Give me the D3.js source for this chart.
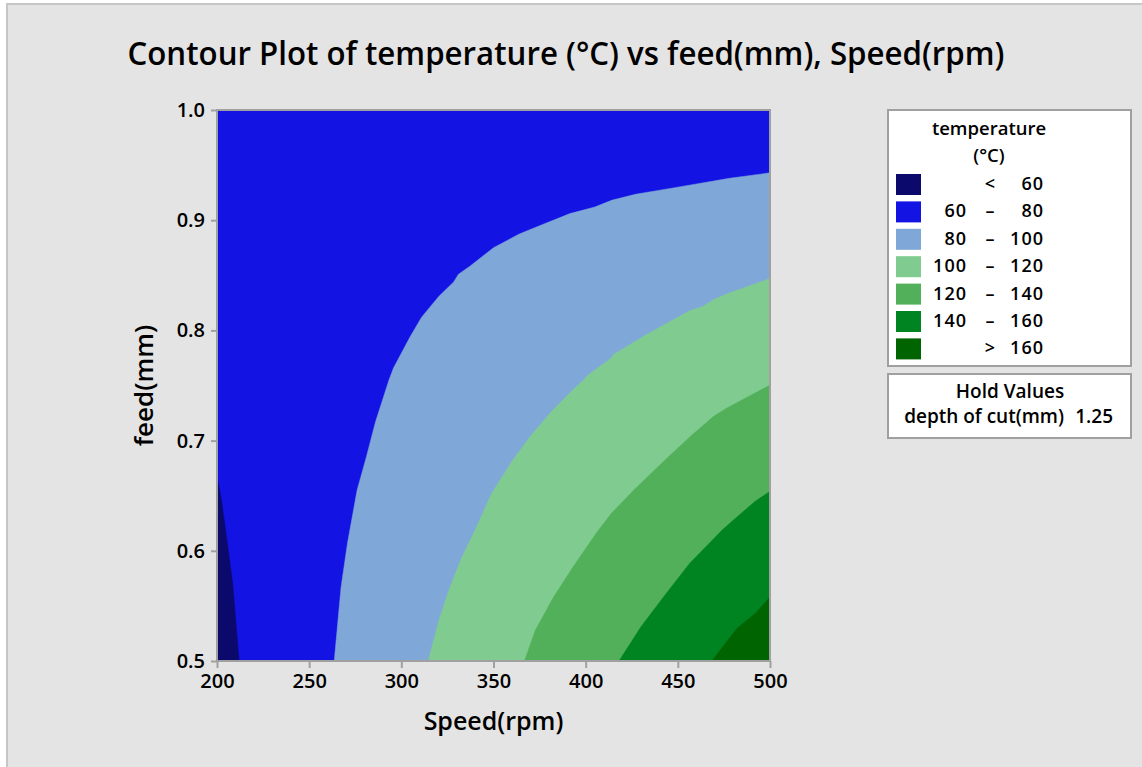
<!DOCTYPE html>
<html>
<head>
<meta charset="utf-8">
<script src="https://cdn.jsdelivr.net/npm/d3@7"></script>
<style>
  html, body { margin: 0; padding: 0; background: #ffffff; }
  svg { display: block; }
  text { font-family: "Open Sans", "Noto Sans", sans-serif; fill: #000; }
</style>
</head>
<body>
<svg id="chart" width="1142" height="767"></svg>
<script>
// Contour bands: level edges, names and fill colours
const levels = [60, 80, 100, 120, 140, 160];
const bandColors = ["#0b0a6c", "#1313e3", "#7fa8d8", "#80cc90", "#52b05b", "#008422", "#006400"];
const legendLo  = ["", "60", "80", "100", "120", "140", ""];
const legendSym = ["<", "\u2013", "\u2013", "\u2013", "\u2013", "\u2013", ">"];
const legendHi  = ["60", "80", "100", "120", "140", "160", "160"];

// Axis ticks
const speedTicks = [200, 250, 300, 350, 400, 450, 500];
const feedTicks = [0.5, 0.6, 0.7, 0.8, 0.9, 1.0];

// Contour lines as [speed (rpm), feed (mm)] points
const contour60 = [[200, 0.668], [202.5, 0.645], [205.6, 0.607], [208.5, 0.57], [212, 0.5]];
const contour80 = [[500, 0.943], [478, 0.938], [450, 0.930], [427, 0.9235], [414, 0.918], [405, 0.912],
  [391.5, 0.906], [375, 0.895], [364, 0.8875], [350, 0.875], [337, 0.858], [331, 0.851], [328.4, 0.844],
  [320.4, 0.831], [311, 0.812], [304.7, 0.794], [295.8, 0.766], [293.3, 0.755], [286, 0.717], [281, 0.685],
  [276, 0.655], [270.8, 0.607], [267.3, 0.567], [263.6, 0.5]];
const contour100 = [[500, 0.847], [478, 0.834], [470, 0.8285], [463.4, 0.8215], [456.6, 0.818], [432.8, 0.796],
  [415, 0.778], [414, 0.775], [401.3, 0.7595], [398.9, 0.755], [393, 0.746], [380.7, 0.725], [369.8, 0.7035],
  [360, 0.681], [349, 0.652], [341.2, 0.623], [332.3, 0.592], [326.4, 0.567], [320.4, 0.537], [314.6, 0.5]];
const contour120 = [[500, 0.7505], [476, 0.729], [469.4, 0.722], [456.6, 0.7035], [442.8, 0.682], [426, 0.655],
  [414, 0.634], [406.2, 0.617], [393.4, 0.586], [382.6, 0.558], [372.7, 0.528], [366.8, 0.5]];
const contour140 = [[500, 0.654], [492, 0.645], [480.2, 0.628], [474.2, 0.619], [456.6, 0.589], [443.8, 0.5615],
  [430, 0.531], [418.1, 0.5]];
const contour160 = [[500, 0.558], [492, 0.543], [482.3, 0.530], [468.4, 0.5]];

const holdName = "depth of cut(mm)";
const holdValue = 1.25;

const svg = d3.select("#chart");
const frameColor = "#a0a0a0";

// Grey graph panel
svg.append("rect").attr("x", 7).attr("y", 4).attr("width", 1142).attr("height", 780)
  .attr("fill", "#e4e4e4").attr("stroke", "#c6c6c6").attr("stroke-width", 2);

// Scales
const x = d3.scaleLinear().domain([200, 500]).range([217, 770]);
const y = d3.scaleLinear().domain([0.5, 1.0]).range([661, 110]);

svg.append("defs").append("clipPath").attr("id", "plotClip")
  .append("rect").attr("x", x(200)).attr("y", y(1.0))
  .attr("width", x(500) - x(200)).attr("height", y(0.5) - y(1.0));

const plot = svg.append("g").attr("clip-path", "url(#plotClip)");
const line = d3.line().x(d => x(d[0])).y(d => y(d[1]));

// 60–80 band fills the whole region first
plot.append("rect").attr("x", x(200)).attr("y", y(1.0))
  .attr("width", x(500) - x(200)).attr("height", y(0.5) - y(1.0))
  .attr("fill", bandColors[1]);

// Below 60: bounded by the 60 line and the lower-left corner
plot.append("path").attr("d", line(contour60.concat([[200, 0.5]])) + "Z")
  .attr("fill", bandColors[0]).attr("stroke", bandColors[0]).attr("stroke-width", 0.5);

// Higher bands grow toward the lower-right corner
[contour80, contour100, contour120, contour140, contour160].forEach((c, i) => {
  plot.append("path").attr("d", line(c.concat([[500, 0.5]])) + "Z")
    .attr("fill", bandColors[i + 2]).attr("stroke", bandColors[i + 2]).attr("stroke-width", 0.5);
});

// Frame
svg.append("rect").attr("x", x(200)).attr("y", y(1.0))
  .attr("width", x(500) - x(200)).attr("height", y(0.5) - y(1.0))
  .attr("fill", "none").attr("stroke", frameColor).attr("stroke-width", 2);

// Axes
const xAxis = svg.append("g").attr("transform", `translate(0,${y(0.5)})`)
  .call(d3.axisBottom(x).tickValues(speedTicks).tickSize(7).tickPadding(6).tickFormat(d3.format("d")));
const yAxis = svg.append("g").attr("transform", `translate(${x(200)},0)`)
  .call(d3.axisLeft(y).tickValues(feedTicks).tickSize(6).tickPadding(6).tickFormat(d3.format(".1f")));
[xAxis, yAxis].forEach(a => {
  a.select(".domain").remove();
  a.selectAll(".tick line").attr("stroke", frameColor).attr("stroke-width", 2);
  a.selectAll(".tick text").attr("fill", "#000").style("font-size", "20px").style("font-weight", 600)
    .style("font-family", '"Open Sans", sans-serif');
});

// Titles
svg.append("text").attr("x", 566).attr("y", 65).attr("text-anchor", "middle")
  .attr("textLength", 877).attr("lengthAdjust", "spacingAndGlyphs")
  .style("font-size", "33px").style("font-weight", 600)
  .text("Contour Plot of temperature (°C) vs feed(mm), Speed(rpm)");
svg.append("text").attr("x", (x(200) + x(500)) / 2).attr("y", 730).attr("text-anchor", "middle")
  .style("font-size", "25px").style("font-weight", 600).text("Speed(rpm)");
svg.append("text").attr("transform", `translate(153,${(y(0.5) + y(1.0)) / 2}) rotate(-90)`)
  .attr("text-anchor", "middle").style("font-size", "26px").style("font-weight", 600).text("feed(mm)");

// Legend
const lg = svg.append("g");
lg.append("rect").attr("x", 888).attr("y", 110).attr("width", 243).attr("height", 256)
  .attr("fill", "#fff").attr("stroke", frameColor).attr("stroke-width", 2);
lg.append("text").attr("x", 989).attr("y", 135).attr("text-anchor", "middle")
  .style("font-size", "18.5px").style("font-weight", 600).text("temperature");
lg.append("text").attr("x", 989).attr("y", 162).attr("text-anchor", "middle")
  .style("font-size", "18.5px").style("font-weight", 600).text("(°C)");
const rows = lg.selectAll("g.row").data(bandColors).join("g").attr("class", "row")
  .attr("transform", (d, i) => `translate(0,${174 + i * 27.4})`);
rows.append("rect").attr("x", 896).attr("y", 0).attr("width", 25).attr("height", 21).attr("fill", d => d);
rows.append("text").attr("x", 967).attr("y", 16).attr("text-anchor", "end")
  .style("font-size", "18px").style("font-weight", 600).style("letter-spacing", "1px")
  .text((d, i) => legendLo[i]);
rows.append("text").attr("x", 990).attr("y", 16).attr("text-anchor", "middle")
  .style("font-size", "18px").style("font-weight", 600).text((d, i) => legendSym[i]);
rows.append("text").attr("x", 1044).attr("y", 16).attr("text-anchor", "end")
  .style("font-size", "18px").style("font-weight", 600).style("letter-spacing", "1px")
  .text((d, i) => legendHi[i]);

// Hold values box
const hb = svg.append("g");
hb.append("rect").attr("x", 888).attr("y", 374).attr("width", 243).attr("height", 64)
  .attr("fill", "#fff").attr("stroke", frameColor).attr("stroke-width", 2);
hb.append("text").attr("x", 1010).attr("y", 398).attr("text-anchor", "middle")
  .style("font-size", "19px").style("font-weight", 600).text("Hold Values");
hb.append("text").attr("x", 1064).attr("y", 423).attr("text-anchor", "end")
  .style("font-size", "19px").style("font-weight", 600).text(holdName);
hb.append("text").attr("x", 1113).attr("y", 423).attr("text-anchor", "end")
  .style("font-size", "19px").style("font-weight", 600).text(d3.format(".2f")(holdValue));
</script>
</body>
</html>
